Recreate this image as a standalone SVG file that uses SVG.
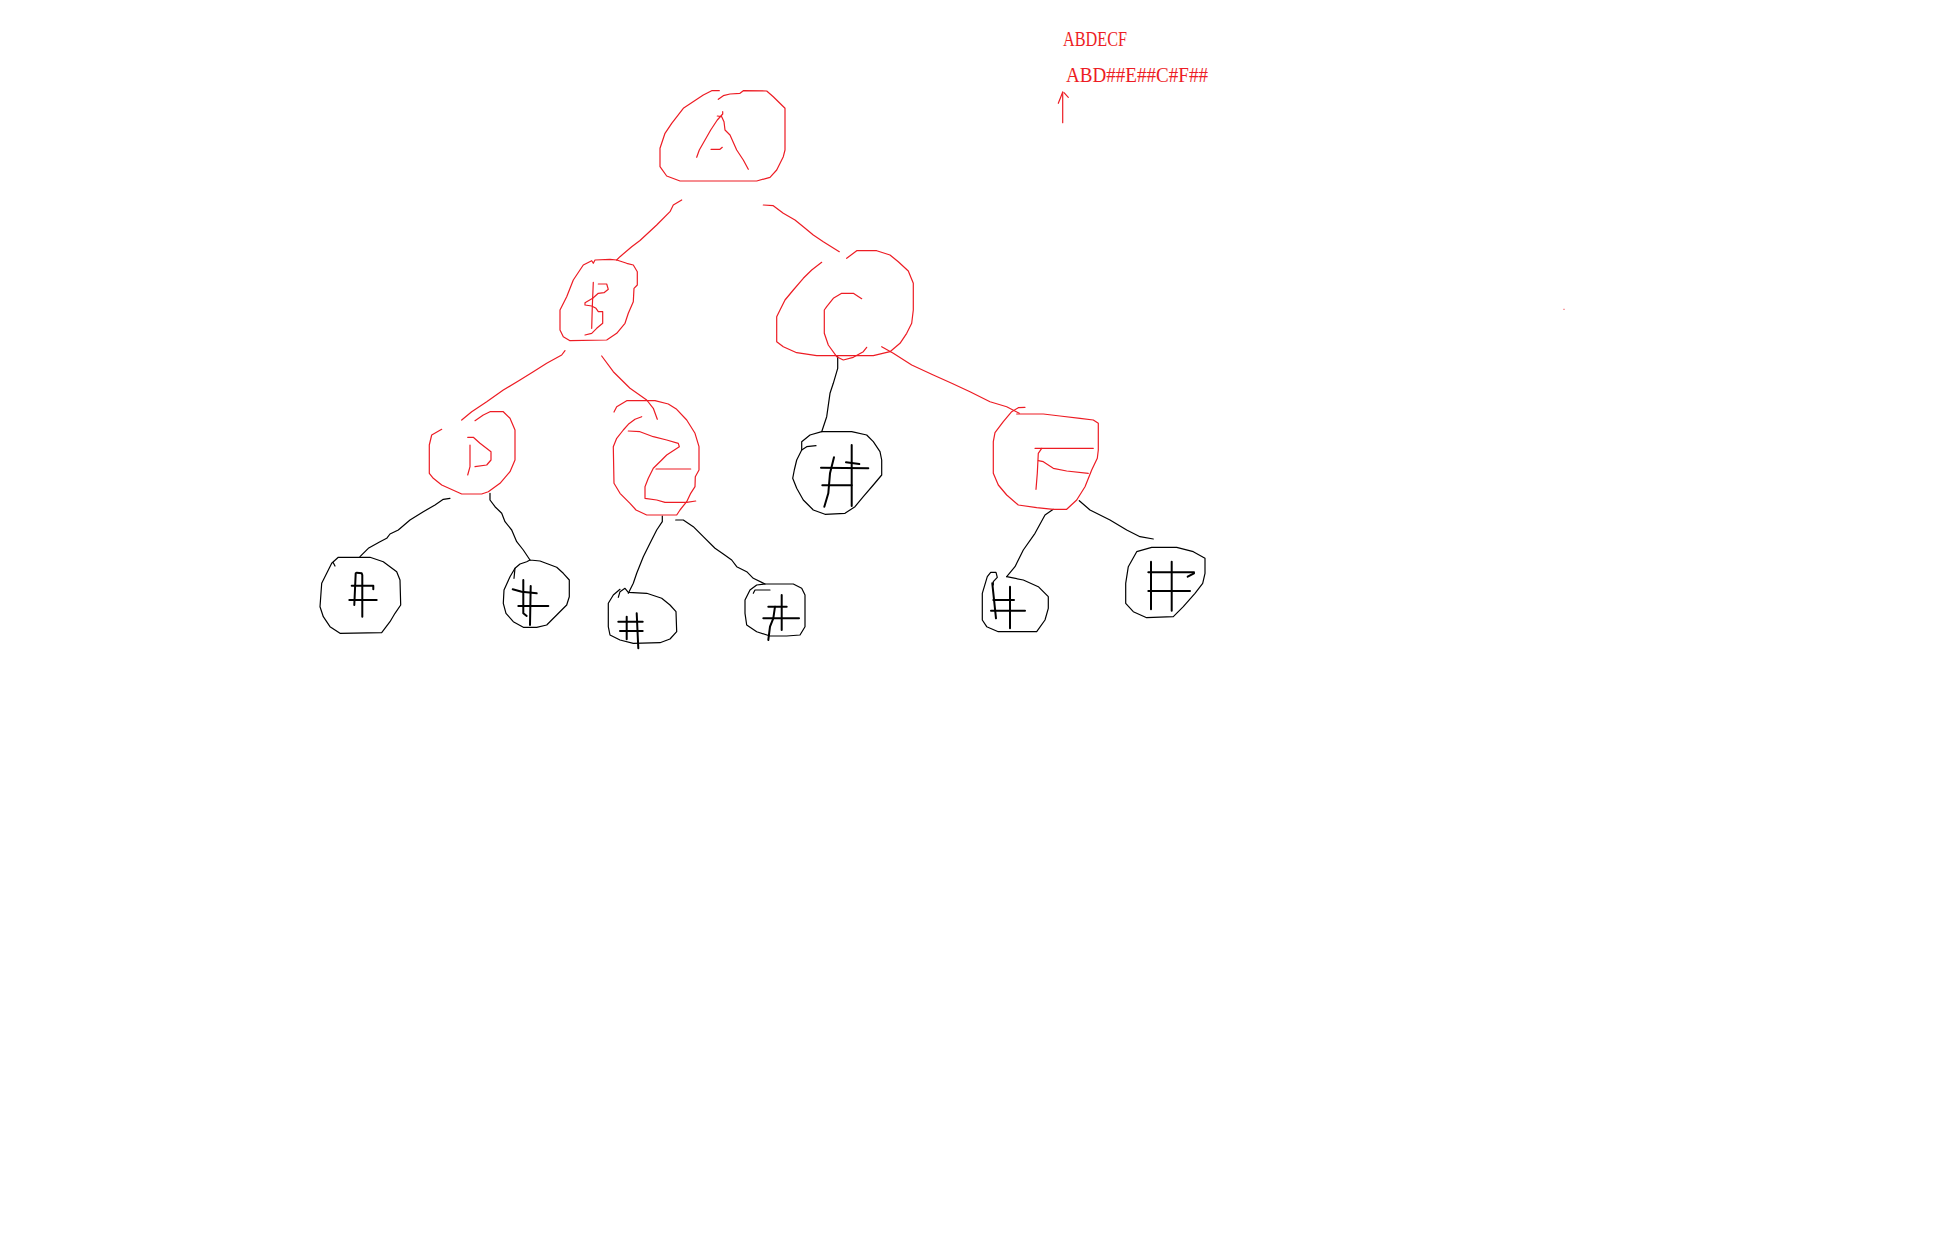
<svg xmlns="http://www.w3.org/2000/svg" width="1954" height="1258" viewBox="0 0 1954 1258">
  <style>
    polyline { fill: none; stroke-linecap: round; stroke-linejoin: round; }
    .r { stroke: #ED1C24; stroke-width: 1.2; }
    .k { stroke: #000; stroke-width: 1.2; }
    .h { stroke: #000; stroke-width: 2; }
    .t { font-family: "Liberation Serif", "Times New Roman", serif; font-size: 21px; fill: #ED1C24; }
  </style>
  <rect width="1954" height="1258" fill="#fff"/>

  <!-- traversal notes -->
  <g id="notes">
    <text class="t" x="1063" y="45.5" textLength="64" lengthAdjust="spacingAndGlyphs">ABDECF</text>
    <text class="t" x="1066" y="82" textLength="142" lengthAdjust="spacingAndGlyphs">ABD##E##C#F##</text>
    <polyline class="r" points="1062.7,92 1062.7,122.7"/>
    <polyline class="r" points="1058.3,103.3 1060.7,97.3 1062.7,92"/>
    <polyline class="r" points="1064,92.7 1068.3,97.3"/>
    <rect x="1563.5" y="308.8" width="1" height="1" fill="#ED1C24"/>
  </g>

  <!-- connectors -->
  <g id="edges">
    <polyline class="r" points="681.7,200 673.3,205 670,211.7 656.7,225 640,240.5 631.7,246.7 620,256.7 616.7,260"/>
    <polyline class="r" points="763.3,205 773.3,205.7 783.3,213.3 795,220 803.3,226.7 813.3,235 823.3,241.7 839.3,251.7"/>
    <polyline class="r" points="565,350.7 561.7,355 546.7,363.3 533.3,371.7 520,380 503.3,390 486.7,401.7 471.7,411.7 461.7,420"/>
    <polyline class="r" points="601.7,356 613.3,371.7 630,388.3 646.7,400 653.3,408.3 657.3,419.3"/>
    <polyline class="r" points="881.7,346.7 893.3,353.3 911.7,365 933.3,375 951.7,383.3 970,391.7 990,401.7 1006.7,406.7 1019.3,413.3"/>
    <polyline class="k" points="837.7,356.7 837.7,368.3 833.3,383.3 830,393.3 826.7,416.7 821.7,431.7"/>
    <polyline class="k" points="450,498.3 443.3,499.3 435,505 423.3,511.7 410,520 398.3,530 390,534 386.7,538.3 380,541.7 368.3,548.3 360,556.7"/>
    <polyline class="k" points="490,493.3 490,500 495,506.7 501.7,513.3 505,521.7 511.7,530 516.7,541.7 523.3,550 530,560"/>
    <polyline class="k" points="662.3,516 662.3,521.7 656.7,530 650,543.3 643.3,556.7 636.7,573.3 633.3,583.3 628.3,593.3"/>
    <polyline class="k" points="675.7,520 683.3,520 693.3,526.7 703.3,536.7 715,548.3 723.3,554 731.7,560 736.7,566.7 746.7,571.7 753.3,578.3 765,584"/>
    <polyline class="k" points="1053.3,509.3 1045,515 1035,533.3 1023.3,550 1015,566.7 1006.7,576.7"/>
    <polyline class="k" points="1079.3,500.7 1090,510 1110,520 1126.7,530 1140,536.7 1153.3,539"/>
  </g>

  <!-- node A -->
  <g id="node-A">
    <polyline class="r" points="719.3,90.7 711.7,90.7 703.3,95 683.3,108.3 671.7,123.3 665,133.3 660,148.3 660,166.7 666.7,176 680,181 756.7,181 770,177.3 776.7,170 783.3,156.7 785,150 785,108.3 773.3,96.7 766.7,91 743.3,90.7 740,93.3 730,94 723.3,95.7 718.3,99.3"/>
    <polyline class="r" points="696.7,157.3 699.3,150 705,140 710.7,130 717.3,120 722.7,114 722.7,111.7"/>
    <polyline class="r" points="717.3,116 721.7,116.7 724,121.7 725,130 730,135 736.7,150 743.3,160 748.3,169.3"/>
    <polyline class="r" points="711,149.3 720,149.3 722.3,147.3"/>
  </g>

  <!-- node B -->
  <g id="node-B">
    <polyline class="r" points="616.7,260 626.7,263.3 633.3,265 637.3,271.7 637.3,285 634,288.3 633.3,301.7 628.3,313.3 625,323.3 616.7,333.3 606.7,340 570,340.7 563.3,336.7 560,330 560,310 566.7,296.7 573.3,280 583.3,265 591.7,260.7 593.3,263.3 595,260 610,259.3 616.7,260"/>
    <polyline class="r" points="593.3,282.3 592.3,306.7 591.7,328.3"/>
    <polyline class="r" points="598.3,284 606.7,284 608.3,289.3 604,292.7 598.3,293.3 592.7,298.3 585,302.7 585,305 591.7,306 596,308.3 598.3,311.7 602.7,311.7 602.7,323.3 596.7,328.3 591.7,333.3 585,335"/>
  </g>

  <!-- node C -->
  <g id="node-C">
    <polyline class="r" points="821.7,262.3 811.7,270 803.3,278.3 793.3,290 785,300 780,310 776.7,316.7 776.7,341.7 783.3,346.7 796.7,352.7 816.7,355.7 873.3,355.7 890,351.7 900,343.3 906.7,333.3 911.7,323.3 913.3,310 913.3,283.3 908.3,271 898.3,261.7 890,255 876.7,250.7 856.7,250.7 846.7,258.3"/>
    <polyline class="r" points="861.7,298.7 853.3,293.3 841.7,293.3 833.3,298.3 826.7,306.7 824.3,310 824.3,333.3 828.3,345 836.7,356.7 843.3,360 853.3,357.3 863.3,351.7 866.7,347.3"/>
  </g>

  <!-- node D -->
  <g id="node-D">
    <polyline class="r" points="475,420.7 483.3,415 490,411.7 503.3,411.7 510,418.3 515,430 515,460 510,471.7 500,483.3 488.3,491.7 481.7,494 461.7,494 441.7,485 433.3,478.3 429.3,473.3 429.3,445 431.7,435 441.7,429.3"/>
    <polyline class="r" points="470,445 470,466.7 467.7,475"/>
    <polyline class="r" points="467.7,437.3 473.3,437.3 480,443.3 491,451.7 491,460 486.7,465 475,466.7"/>
  </g>

  <!-- node E -->
  <g id="node-E">
    <polyline class="r" points="614,412 616.7,406.7 626.7,400.7 655,400.7 668.3,404 676.7,409.3 686.7,420 695,433.3 699,446.7 699,470 695.3,476.7 695,486.7 690.7,493.3 686.7,501.7 680,510 676.7,515 646.7,515 636,510 630,503.3 620,493.3 614,483.3 613.3,446.7 616.7,438.3 623.3,430 628.3,424.3 635,419.3 641.7,416.7"/>
    <polyline class="r" points="628.3,431 640,431.7 653.3,436.7 666.7,440 678.3,443.3 679.3,446.7 666.7,455 661.7,460 653.3,468.3 648.3,478.3 645,486.7 645,498.3 656.7,500 665,502.3 686.7,502.3 695.7,501"/>
    <polyline class="r" points="656,469 690.7,469"/>
  </g>

  <!-- node F -->
  <g id="node-F">
    <polyline class="r" points="1025,407.3 1018.3,407.7 1011.7,411.7 1003.3,421.7 995,432.7 993.3,441.7 993.3,473.3 998.3,485 1006.7,495 1018.3,505 1036.7,507.7 1053.3,509.3 1066.7,509.3 1076.7,500 1085,486.7 1091.7,470 1097.3,458.3 1098.3,450 1098.3,423.3 1093.3,420 1080,418.3 1060,416 1043.3,414 1016.7,414"/>
    <polyline class="r" points="1035,448.3 1093.3,448.3"/>
    <polyline class="r" points="1041.7,448.3 1038.3,453.3 1037.3,473.3 1036,489.3"/>
    <polyline class="r" points="1038.3,460.7 1043.3,461.7 1053.3,468.3 1066.7,471 1088.3,473.3"/>
  </g>

  <!-- empty leaves (#) -->
  <g id="leaf-D-left">
    <polyline class="k" points="343.3,557.3 370,557.3 383.3,561.7 390,566.7 396.7,571.7 400,580 400.7,605 395,613.3 390,621.7 381.7,632.7 340,633.3 330,626.7 323.3,616.7 320,606.7 321.7,583.3 326.7,573.3 331.7,563.3 338.3,557.3 343.3,557.3"/>
    <polyline class="k" points="333.3,562.7 335,566"/>
    <polyline class="h" points="356.7,572.7 361.7,573.3 362.3,575 362.3,616.7"/>
    <polyline class="h" points="355.7,573.3 354.3,605"/>
    <polyline class="h" points="351.7,585.7 373.3,585.7 373.3,589.3"/>
    <polyline class="h" points="349.3,600 376.7,600"/>
  </g>

  <g id="leaf-D-right">
    <polyline class="k" points="530,560 540,561 556.7,567.3 563.3,573.3 569.3,580 569.3,596.7 566.7,605 556.7,615 546.7,625 536.7,627.3 523.3,627.3 513.3,621.7 506,613.3 503.3,603.3 504,590 510,576.7 515,568.3 520,564 526.7,561.7 530,560"/>
    <polyline class="k" points="515,568.3 514,578.3"/>
    <polyline class="h" points="523.3,580 523.3,613.3 526.7,616"/>
    <polyline class="h" points="530.7,586 530,625"/>
    <polyline class="h" points="512.7,589.3 521.7,591.7 536.7,593.3"/>
    <polyline class="h" points="518.3,606 548.3,606"/>
  </g>

  <g id="leaf-E-left">
    <polyline class="k" points="618.3,597.3 620,591.7 625,588.3 628.3,592.3 646.7,593.3 661.7,598.3 670,605 676,611.7 676.7,631.7 670,639 660,642.7 633.3,643.3 620,640 610,635 608.3,626.7 608.3,603.3 613.3,595 620,589.3"/>
    <polyline class="h" points="626.7,616.7 626.7,639.3"/>
    <polyline class="h" points="636.7,613.3 638.3,648.3"/>
    <polyline class="h" points="618.3,621.7 642.7,621.7"/>
    <polyline class="h" points="620,631 642.7,631"/>
  </g>

  <g id="leaf-E-right">
    <polyline class="k" points="765,584 793.3,584 801.7,588.3 805,595 805,626.7 800,635 786.7,636 770,636 756.7,631.7 746.7,625 745,613.3 745,600 750,590 756.7,585 765,584"/>
    <polyline class="k" points="753.3,593.3 755,590 770,590"/>
    <polyline class="h" points="781.7,595 781.7,630"/>
    <polyline class="h" points="775,606.7 773.3,618.3 770,626.7 768.3,640"/>
    <polyline class="h" points="768.3,606.7 786.7,606.7"/>
    <polyline class="h" points="763.3,618.3 799,618.3"/>
  </g>

  <g id="leaf-C-left">
    <polyline class="k" points="821.7,431.7 851.7,431.7 866.7,435 873.3,441.7 880,451.7 881.7,460 881.7,475 873.3,485 863.3,496.7 855,506.7 845,513.3 825,514.3 813.3,510 803.3,500 796.7,488.3 792.7,478.3 794.3,470 796.7,460 801.7,450 801.7,441.7 810,435 821.7,431.7"/>
    <polyline class="k" points="801.7,450 806.7,446.7 816,445.7"/>
    <polyline class="h" points="851.7,445 851.7,506"/>
    <polyline class="h" points="834,457.3 830,473.3 828.3,493.3 824.3,506.7"/>
    <polyline class="h" points="821,467.7 868.3,468.3"/>
    <polyline class="h" points="822.3,485.3 851.7,485.3"/>
    <polyline class="h" points="846,462.3 859.3,464"/>
  </g>

  <g id="leaf-F-left">
    <polyline class="k" points="1006.7,576.7 1023.3,580 1038.3,586.7 1048.3,596.7 1048.3,608.3 1045,620 1036.7,631.7 998.3,631.7 986.7,626.7 982.3,620 982.3,593.3 987.3,576.7 990.7,572.3 996,572.3 997.3,577.3 993.3,581.7 993.3,585"/>
    <polyline class="h" points="992.3,583.3 996,618.3"/>
    <polyline class="h" points="1010,586.7 1010,628.3"/>
    <polyline class="h" points="993.3,600 1014,600"/>
    <polyline class="h" points="991,610.7 1025,610.7"/>
  </g>

  <g id="leaf-F-right">
    <polyline class="k" points="1151.7,547.3 1176.7,547.3 1193.3,551.7 1205,558.3 1205,573.3 1202.7,583.3 1195,593.3 1183.3,606.7 1173.3,616.7 1146.7,617.7 1133.3,611.7 1125.7,603.3 1125.7,583.3 1128.3,566.7 1136.7,551.7 1151.7,547.3"/>
    <polyline class="h" points="1151,561.7 1151,609.3"/>
    <polyline class="h" points="1171.7,561.7 1171.7,610.7"/>
    <polyline class="h" points="1148.3,572.3 1194,572.3"/>
    <polyline class="h" points="1194,573.3 1187.7,576.7"/>
    <polyline class="h" points="1148.3,591 1190,591"/>
  </g>
</svg>
